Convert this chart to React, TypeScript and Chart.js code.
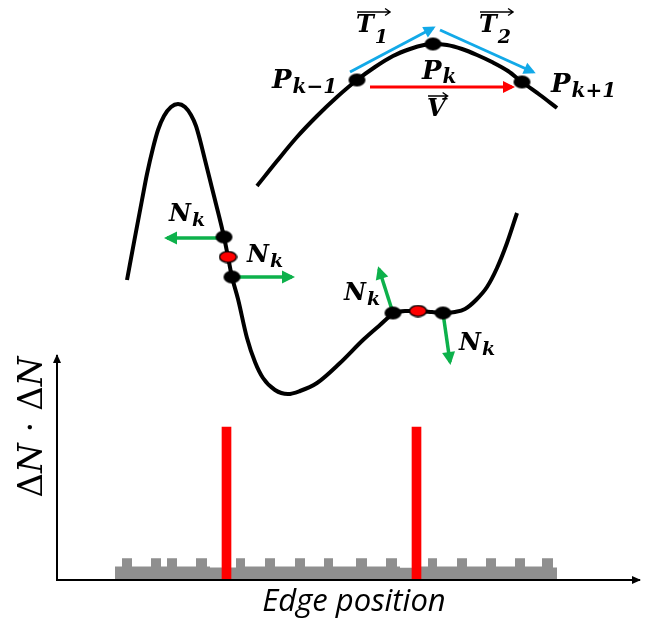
import { useEffect, useRef } from "react";
import { Chart, registerables } from "chart.js";

Chart.register(...registerables);

const W = 655;
const H = 619;

// ---- lower contour (black wave), diagram units ----
const waveX = [127, 135, 142, 147, 153, 158, 164, 171, 178, 185, 191, 196, 200, 205, 210, 215, 224, 228, 232, 238, 247, 255, 263, 275, 288, 300, 317, 340, 363, 380, 393, 405, 418, 432, 443, 455, 465, 476, 487, 497, 507, 517];
const waveY = [280, 237, 200, 174, 148, 130, 116, 107, 104, 107, 115, 126, 140, 160, 180, 200, 237, 257, 277, 299, 338, 362, 378, 390, 394, 391, 383, 363, 340, 325, 314, 311, 311, 312, 313, 312, 309, 300, 287, 268, 243, 213];

// ---- upper contour (arc) ----
const arcX = [257, 277, 297, 317, 337, 357, 375, 393, 410, 424, 433, 447, 462, 477, 492, 508, 522, 540, 557];
const arcY = [186, 161, 137, 116, 97, 80, 67, 56, 49, 45, 44, 45, 49, 55, 62, 71, 82, 95, 108];

// ---- contour points ----
const dotX = [357, 433, 522, 224, 232, 393, 443];
const dotY = [80, 44, 82, 237, 277, 313, 313];
const midX = [228, 418];
const midY = [257, 311];

// ---- vectors ----
const tanX0 = [350, 440];
const tanY0 = [72, 30];
const tanX1 = [433, 533];
const tanY1 = [28, 72];
const chordX = [370, 512];
const chordY = [87, 87];
const normX0 = [224, 232, 393, 443];
const normY0 = [238, 277, 313, 313];
const normX1 = [167, 292, 379, 450];
const normY1 = [238, 277, 269, 362];

// ---- histogram (ΔN·ΔN along edge position) ----
const histEdge = [115, 122, 132, 151, 161, 167, 177, 196, 207, 210, 236, 245, 265, 275, 295, 305, 324, 333, 356, 367, 386, 397, 400, 412, 428, 437, 457, 467, 486, 496, 515, 525, 542, 553, 557];
const histLevel = [8.8, 14.2, 8.8, 14.2, 8.8, 14.2, 8.8, 14.2, 8.8, 8.2, 14.2, 8.8, 14.2, 8.8, 14.2, 8.8, 14.2, 8.8, 14.2, 8.8, 14.2, 8.8, 8.0, 8.8, 14.2, 8.8, 14.2, 8.8, 14.2, 8.8, 14.2, 8.8, 14.2, 8.2, 8.2];
const peakX = [226.5, 416.5];
const peakValue = [100, 100];

// ---- axes ----
const axisOriginX = 57;
const axisEndX = 640;
const axisTopValue = 147;

// ---- labels ----
const labelMain = ["P", "P", "P", "T", "T", "V", "N", "N", "N", "N"];
const labelSub = ["k\u22121", "k", "k+1", "1", "2", "", "k", "k", "k", "k"];
const labelX = [272, 422, 551, 356, 479, 427, 169, 247, 344, 459];
const labelY = [88, 79, 92, 32, 32, 116, 221, 262, 300, 350];
const labelSubDrop = [5, 4, 5, 11, 11, 0, 5, 5, 5, 5];
const labelVector = [false, false, false, true, true, true, false, false, false, false];
const xTitle = "Edge position";
const yTitleRuns = ["\u0394", "N", " \u00b7 ", "\u0394", "N"];

const BLUE = "#12a9e8";
const GREEN = "#0db14b";
const RED = "#ff0000";
const GRAY = "#8f8f8f";

function zip(xs: number[], ys: number[]) {
  return xs.map((x, i) => ({ x, y: ys[i] }));
}

function makeEllipse(w: number, h: number, fill: string, stroke: string | null) {
  const c = document.createElement("canvas");
  c.width = w + 2;
  c.height = h + 2;
  const g = c.getContext("2d")!;
  g.beginPath();
  g.ellipse(c.width / 2, c.height / 2, w / 2, h / 2, 0, 0, Math.PI * 2);
  g.fillStyle = fill;
  g.fill();
  if (stroke) {
    g.lineWidth = 1.5;
    g.strokeStyle = stroke;
    g.stroke();
  }
  return c;
}

const arrowPlugin = {
  id: "arrowHeads",
  afterDatasetsDraw(chart: any) {
    const ctx = chart.ctx;
    chart.data.datasets.forEach((ds: any, i: number) => {
      if (!ds.headLength) return;
      const pts = chart.getDatasetMeta(i).data;
      if (pts.length < 2) return;
      const a = pts[pts.length - 2];
      const b = pts[pts.length - 1];
      const ang = Math.atan2(b.y - a.y, b.x - a.x);
      const L = ds.headLength;
      const hw = ds.headWidth / 2;
      const ext = ds.headExtend || 0;
      const tx = b.x + Math.cos(ang) * ext;
      const ty = b.y + Math.sin(ang) * ext;
      const bx = tx - Math.cos(ang) * L;
      const by = ty - Math.sin(ang) * L;
      ctx.save();
      ctx.fillStyle = ds.borderColor;
      ctx.beginPath();
      ctx.moveTo(tx, ty);
      ctx.lineTo(bx + Math.sin(ang) * hw, by - Math.cos(ang) * hw);
      ctx.lineTo(bx - Math.sin(ang) * hw, by + Math.cos(ang) * hw);
      ctx.closePath();
      ctx.fill();
      ctx.restore();
    });
  },
};

const MATH = '"DejaVu Serif"';

const textPlugin = {
  id: "diagramText",
  afterDraw(chart: any) {
    const ctx = chart.ctx;
    const sx = chart.scales.x;
    const sy = chart.scales.y;
    ctx.save();
    ctx.fillStyle = "#000";
    ctx.textBaseline = "alphabetic";
    ctx.textAlign = "left";
    labelMain.forEach((m, i) => {
      const px = sx.getPixelForValue(labelX[i]);
      const py = sy.getPixelForValue(labelY[i]);
      const size = i < 3 ? 26 : 24;
      ctx.font = `italic bold ${size}px ${MATH}`;
      ctx.fillText(m, px, py);
      const mw = ctx.measureText(m).width;
      let sw = 0;
      if (labelSub[i]) {
        const ss = Math.round(size * 0.78);
        ctx.font = `italic bold ${ss}px ${MATH}`;
        ctx.fillText(labelSub[i], px + mw + 1, py + labelSubDrop[i]);
        sw = ctx.measureText(labelSub[i]).width + 1;
      }
      if (labelVector[i]) {
        const ay = py - 20;
        const x0 = px + 1;
        const x1 = px + mw + sw + 2;
        ctx.strokeStyle = "#000";
        ctx.lineWidth = 1.4;
        ctx.beginPath();
        ctx.moveTo(x0, ay);
        ctx.lineTo(x1, ay);
        ctx.moveTo(x1 - 5, ay - 3.5);
        ctx.lineTo(x1, ay);
        ctx.lineTo(x1 - 5, ay + 3.5);
        ctx.stroke();
      }
    });

    // x axis title
    ctx.font = 'italic 31px "Open Sans"';
    ctx.textAlign = "center";
    ctx.fillText(xTitle, sx.getPixelForValue(354), sy.getPixelForValue(611));

    // y axis title (rotated)
    ctx.translate(sx.getPixelForValue(42), sy.getPixelForValue(427));
    ctx.rotate(-Math.PI / 2);
    const fonts = yTitleRuns.map((r) => (r === "N" ? `italic 34px ${MATH}` : `34px ${MATH}`));
    let total = 0;
    const widths = yTitleRuns.map((r, i) => {
      ctx.font = fonts[i];
      const w = ctx.measureText(r).width;
      total += w;
      return w;
    });
    ctx.textAlign = "left";
    let cx = -total / 2;
    yTitleRuns.forEach((r, i) => {
      ctx.font = fonts[i];
      ctx.fillText(r, cx, 0);
      cx += widths[i];
    });
    ctx.restore();
  },
};

export default function App() {
  const ref = useRef<HTMLCanvasElement>(null);

  useEffect(() => {
    const canvas = ref.current!;
    const blackDot = makeEllipse(17, 13, "#000", null);
    const redDot = makeEllipse(17, 11, RED, "#000");

    const pxPerUnit = (580 - 427) / 100;
    const yhMin = -(H - 580) / pxPerUnit;
    const yhMax = 100 + 427 / pxPerUnit;

    const vec = (x0: number, y0: number, x1: number, y1: number, color: string, width: number, head: number, order: number) => ({
      type: "line",
      data: [{ x: x0, y: y0 }, { x: x1, y: y1 }],
      borderColor: color,
      borderWidth: width,
      pointRadius: 0,
      fill: false,
      xAxisID: "x",
      yAxisID: "y",
      headLength: head,
      headWidth: head,
      headExtend: 3,
      order,
    });

    const datasets: any[] = [
      {
        type: "line",
        label: "histogram",
        data: zip(histEdge, histLevel),
        stepped: true,
        borderWidth: 0,
        borderColor: GRAY,
        backgroundColor: GRAY,
        fill: { value: 0 },
        pointRadius: 0,
        xAxisID: "x",
        yAxisID: "yh",
        order: 10,
      },
      {
        type: "bar",
        label: "peaks",
        data: zip(peakX, peakValue),
        backgroundColor: RED,
        barThickness: 9,
        xAxisID: "x",
        yAxisID: "yh",
        order: 9,
      },
      {
        type: "line",
        label: "x axis",
        data: [{ x: axisOriginX, y: 0 }, { x: axisEndX, y: 0 }],
        borderColor: "#000",
        borderWidth: 2,
        pointRadius: 0,
        xAxisID: "x",
        yAxisID: "yh",
        headLength: 9,
        headWidth: 8,
        headExtend: 1,
        order: 8,
      },
      {
        type: "line",
        label: "y axis",
        data: [{ x: axisOriginX, y: -0.6 }, { x: axisOriginX, y: axisTopValue }],
        borderColor: "#000",
        borderWidth: 2,
        pointRadius: 0,
        xAxisID: "x",
        yAxisID: "yh",
        headLength: 9,
        headWidth: 8,
        headExtend: 1,
        order: 8,
      },
      {
        type: "line",
        label: "wave",
        data: zip(waveX, waveY),
        borderColor: "#000",
        borderWidth: 4,
        borderJoinStyle: "round",
        cubicInterpolationMode: "monotone",
        pointRadius: 0,
        fill: false,
        xAxisID: "x",
        yAxisID: "y",
        order: 6,
      },
      {
        type: "line",
        label: "arc",
        data: zip(arcX, arcY),
        borderColor: "#000",
        borderWidth: 4,
        borderJoinStyle: "round",
        cubicInterpolationMode: "monotone",
        pointRadius: 0,
        fill: false,
        xAxisID: "x",
        yAxisID: "y",
        order: 6,
      },
      vec(tanX0[0], tanY0[0], tanX1[0], tanY1[0], BLUE, 3, 12, 4),
      vec(tanX0[1], tanY0[1], tanX1[1], tanY1[1], BLUE, 3, 12, 4),
      vec(chordX[0], chordY[0], chordX[1], chordY[1], RED, 3, 12, 4),
      ...normX0.map((x, i) => vec(x, normY0[i], normX1[i], normY1[i], GREEN, 3.5, 13, 4)),
      {
        type: "line",
        label: "points",
        data: zip(dotX, dotY),
        showLine: false,
        pointStyle: blackDot,
        pointRadius: 8,
        xAxisID: "x",
        yAxisID: "y",
        order: 2,
      },
      {
        type: "line",
        label: "midpoints",
        data: zip(midX, midY),
        showLine: false,
        pointStyle: redDot,
        pointRadius: 8,
        xAxisID: "x",
        yAxisID: "y",
        order: 1,
      },
    ];

    const chart = new Chart(canvas, {
      type: "line",
      data: { datasets },
      options: {
        responsive: false,
        maintainAspectRatio: false,
        animation: false,
        events: [],
        layout: { padding: 0, autoPadding: false },
        plugins: { legend: { display: false }, tooltip: { enabled: false } },
        scales: {
          x: { type: "linear", min: 0, max: W, display: false, offset: false },
          y: { type: "linear", min: 0, max: H, reverse: true, display: false },
          yh: { type: "linear", min: yhMin, max: yhMax, display: false },
        },
      },
      plugins: [arrowPlugin, textPlugin],
    } as any);
    return () => chart.destroy();
  }, []);

  return (
    <div style={{ position: "absolute", left: 0, top: 0, width: W, height: H, background: "#fff" }}>
      <canvas ref={ref} width={W} height={H} style={{ display: "block" }} />
    </div>
  );
}
